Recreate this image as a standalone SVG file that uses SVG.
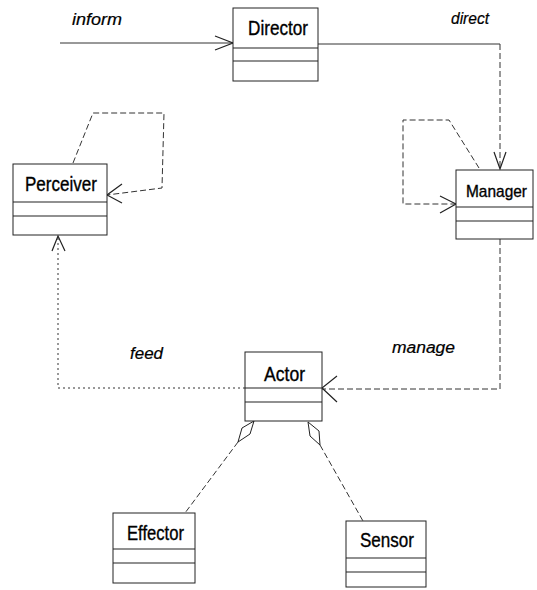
<svg xmlns="http://www.w3.org/2000/svg" width="537" height="590" viewBox="0 0 537 590">
<style>
.box{fill:#fff;stroke:#222;stroke-width:1}
.div{stroke:#222;stroke-width:1.2}
.name{font-family:"Liberation Sans",Arial,sans-serif;font-size:20px;fill:#000;stroke:#000;stroke-width:0.35}
.lbl{font-family:"Liberation Sans",Arial,sans-serif;font-size:16px;font-style:italic;fill:#000;stroke:#000;stroke-width:0.2}
.con{fill:none;stroke:#333;stroke-width:1}
.dash{stroke-dasharray:6 3}
.dot{stroke-dasharray:2 3}
.head{fill:none;stroke:#222;stroke-width:1.2}
.dia{fill:#fff;stroke:#222;stroke-width:1}
</style>
<rect width="537" height="590" fill="#fff"/>
<g id="connectors">
<path class="con" d="M60 43 H233"/>
<path class="head" d="M215 36 L233 43 L215 50"/>
<path class="con" d="M318 44 H500"/>
<path class="con dash" d="M500 44 V169"/>
<path class="head" d="M494 152 L500 169 L506 152"/>
<path class="con dash" d="M479 168 L449 120 H403 V204 H456"/>
<path class="head" d="M440 196 L456 204 L440 213"/>
<path class="con dash" d="M500 239 V389 H322"/>
<path class="head" d="M337 376 L322 388 L337 402"/>
<path class="con dash" d="M73 163 L93 113 H164 L162 188 L107 195"/>
<path class="head" d="M122 184 L107 195 L122 203"/>
<path class="con dot" d="M245 388 H58 V236"/>
<path class="head" d="M52 251 L58 236 L65 251"/>
<path class="con dash" d="M238 442 L185 513"/>
<polygon class="dia" points="254,421 250,434 238,442 242,428"/>
<path class="con dash" d="M320 445 L363 521"/>
<polygon class="dia" points="308,422 319,431 320,445 310,436"/>
</g>
<g id="director">
<rect class="box" x="233" y="8" width="85" height="73"/>
<line class="div" x1="233" y1="48" x2="318" y2="48"/>
<line class="div" x1="233" y1="61" x2="318" y2="61"/>
<text class="name" x="248" y="35" textLength="60" lengthAdjust="spacingAndGlyphs">Director</text>
</g>
<g id="manager">
<rect class="box" x="456" y="170" width="77" height="69"/>
<line class="div" x1="456" y1="207" x2="533" y2="207"/>
<line class="div" x1="456" y1="221" x2="533" y2="221"/>
<text class="name" x="466" y="197" style="font-size:17px" textLength="61" lengthAdjust="spacingAndGlyphs">Manager</text>
</g>
<g id="perceiver">
<rect class="box" x="13" y="164" width="94" height="71"/>
<line class="div" x1="13" y1="202" x2="107" y2="202"/>
<line class="div" x1="13" y1="216" x2="107" y2="216"/>
<text class="name" x="25" y="191" textLength="72" lengthAdjust="spacingAndGlyphs">Perceiver</text>
</g>
<g id="actor">
<rect class="box" x="245" y="352" width="77" height="69"/>
<line class="div" x1="245" y1="388" x2="322" y2="388"/>
<line class="div" x1="245" y1="402" x2="322" y2="402"/>
<text class="name" x="264" y="381" textLength="41" lengthAdjust="spacingAndGlyphs">Actor</text>
</g>
<g id="effector">
<rect class="box" x="113" y="513" width="82" height="70"/>
<line class="div" x1="113" y1="549" x2="195" y2="549"/>
<line class="div" x1="113" y1="563" x2="195" y2="563"/>
<text class="name" x="127" y="540" textLength="57" lengthAdjust="spacingAndGlyphs">Effector</text>
</g>
<g id="sensor">
<rect class="box" x="346" y="521" width="80" height="66"/>
<line class="div" x1="346" y1="558" x2="426" y2="558"/>
<line class="div" x1="346" y1="572" x2="426" y2="572"/>
<text class="name" x="360" y="547" textLength="54" lengthAdjust="spacingAndGlyphs">Sensor</text>
</g>
<text class="lbl" x="72" y="25" textLength="50" lengthAdjust="spacingAndGlyphs">inform</text>
<text class="lbl" x="451" y="24" textLength="38" lengthAdjust="spacingAndGlyphs">direct</text>
<text class="lbl" x="130" y="359" textLength="33" lengthAdjust="spacingAndGlyphs">feed</text>
<text class="lbl" x="392" y="353" textLength="63" lengthAdjust="spacingAndGlyphs">manage</text>
</svg>
